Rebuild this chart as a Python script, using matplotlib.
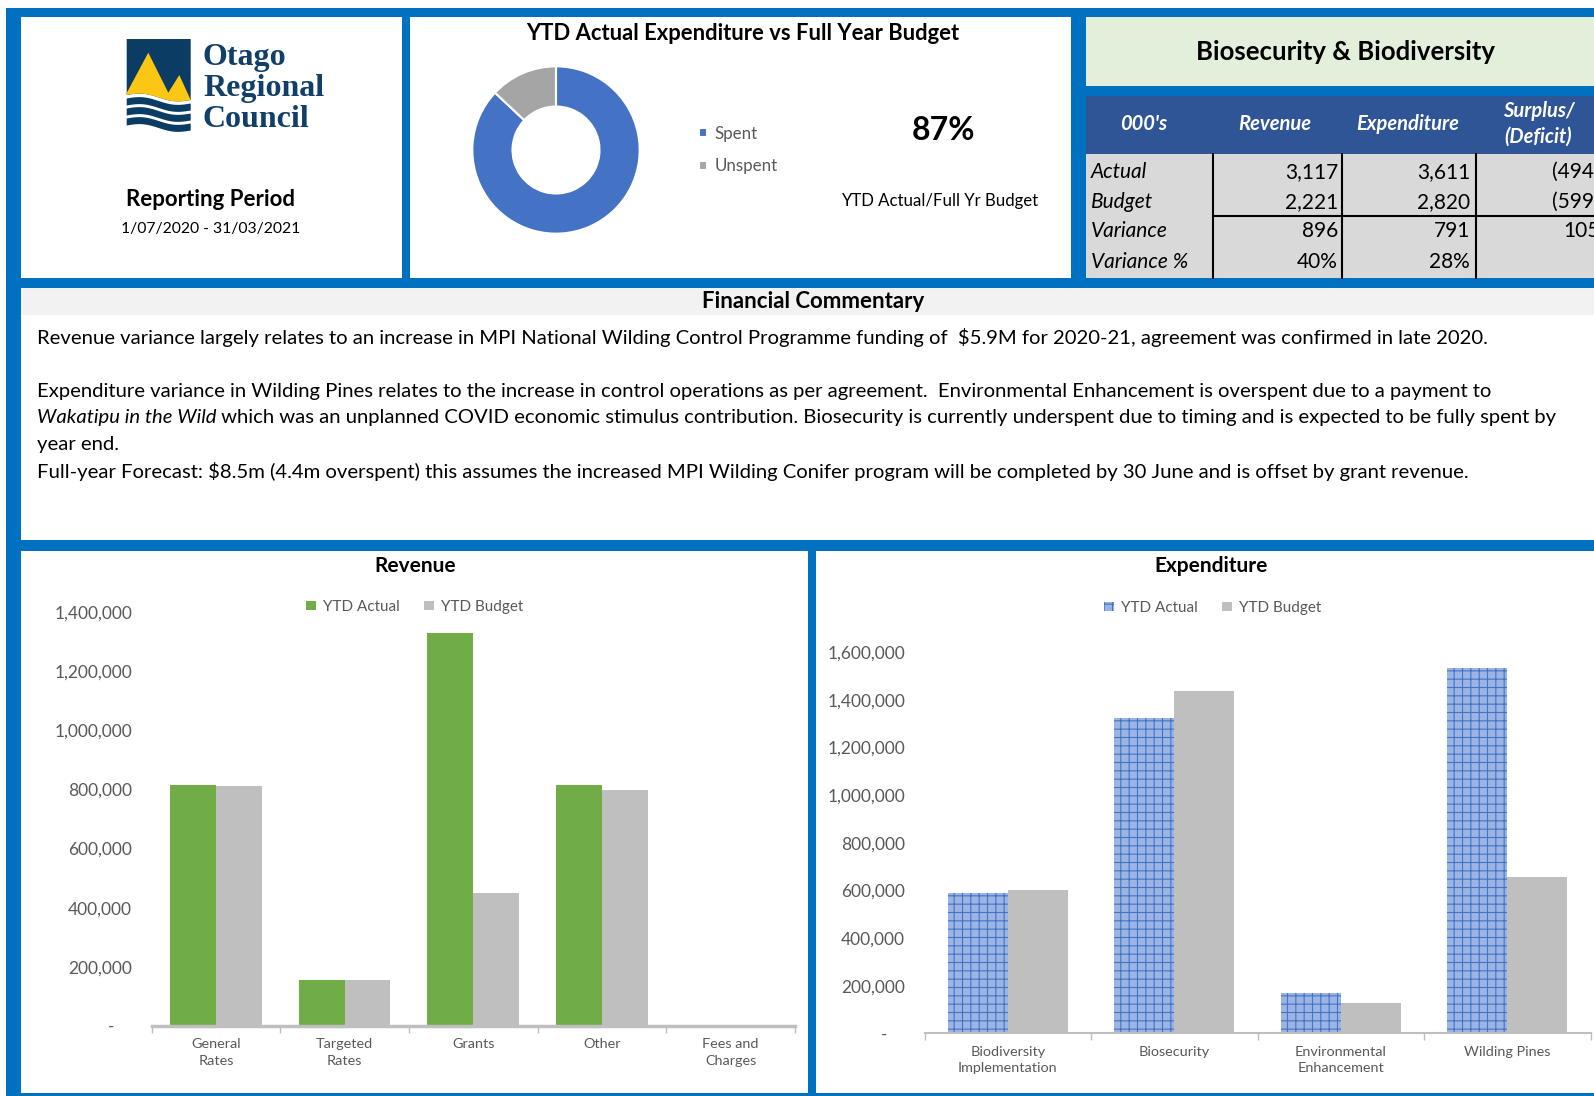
import numpy as np
import matplotlib
matplotlib.use("Agg")
import matplotlib.pyplot as plt
from matplotlib.patches import Rectangle, Polygon
from matplotlib.ticker import FuncFormatter, FixedLocator

plt.rcParams['font.family'] = ['Lato', 'DejaVu Sans']
plt.rcParams['hatch.linewidth'] = 0.8

W, H = 1594, 1096
BLUE = '#0070C0'
GREY_TXT = '#595959'

# ---- data ----
spent_labels = ['Spent', 'Unspent']
spent_share = [87, 13]
spent_pct = '87%'

table_cols = ["000's", 'Revenue', 'Expenditure', 'Surplus/\n(Deficit)']
table_rows = ['Actual', 'Budget', 'Variance', 'Variance %']
table_revenue = ['3,117', '2,221', '896', '40%']
table_expend = ['3,611', '2,820', '791', '28%']
table_surplus = ['(494)', '(599)', '105', '']

rev_cats = ['General\nRates', 'Targeted\nRates', 'Grants', 'Other', 'Fees and\nCharges']
rev_actual = [813000, 157000, 1327000, 813000, 0]
rev_budget = [811000, 155000, 448000, 798000, 0]

exp_cats = ['Biodiversity\nImplementation', 'Biosecurity', 'Environmental\nEnhancement', 'Wilding Pines']
exp_actual = [589000, 1323000, 171000, 1535000]
exp_budget = [602000, 1439000, 126000, 658000]

comment_1 = ("Revenue variance largely relates to an increase in MPI National Wilding Control "
             "Programme funding of  \\$5.9M for 2020-21, agreement was confirmed in late 2020.")
comment_2 = ("Expenditure variance in Wilding Pines relates to the increase in control operations "
             "as per agreement.  Environmental Enhancement is overspent due to a payment to")
comment_3_it = "Wakatipu in the Wild"
comment_3 = (" which was an unplanned COVID economic stimulus contribution. Biosecurity is "
             "currently underspent due to timing and is expected to be fully spent by")
comment_4 = "year end."
comment_5 = ("Full-year Forecast: \\$8.5m (4.4m overspent) this assumes the increased MPI Wilding "
             "Conifer program will be completed by 30 June and is offset by grant revenue.")

fig = plt.figure(figsize=(W / 100, H / 100), dpi=100)


def px_axes(x0, y0, x1, y1):
    return fig.add_axes([x0 / W, 1 - y1 / H, (x1 - x0) / W, (y1 - y0) / H])


# background layer in pixel coords
bg = fig.add_axes([0, 0, 1, 1])
bg.set_xlim(0, W)
bg.set_ylim(H, 0)
bg.axis('off')


def box(x0, y0, x1, y1, color):
    bg.add_patch(Rectangle((x0, y0), x1 - x0, y1 - y0, facecolor=color, edgecolor='none'))


box(6, 8, W + 10, H + 10, BLUE)
box(21, 17, 402, 278, 'white')
box(410, 17, 1071, 278, 'white')
box(1086, 17, W, 86, '#E2EFDA')
box(1086, 96, W, 154, '#2F5597')
box(1086, 154, W, 278, '#D9D9D9')
box(21, 288, W, 540, 'white')
box(21, 288, W, 315, '#F2F2F2')
box(21, 551, 808, 1093, 'white')
box(816, 551, W, 1093, 'white')

# ---- logo ----
navy = '#0B3C63'
lx0, lx1 = 126.7, 190.7
xs = np.linspace(lx0, lx1, 60)
tt = (xs - lx0) / (lx1 - lx0)


def wave(y0):
    return y0 + 5 * tt - 2.5 * np.sin(2 * np.pi * tt)


top_curve = wave(95)
bg.add_patch(Polygon(np.column_stack([np.r_[lx0, xs, lx1], np.r_[39, top_curve, 39]]),
                     facecolor=navy, edgecolor='none'))
mx = [lx0, 148.3, 168.3, 179.3, lx1]
my = [93, 52.7, 92.7, 75, 100]
bg.add_patch(Polygon(np.column_stack([np.r_[mx, xs[::-1]], np.r_[my, top_curve[::-1]]]),
                     facecolor='#FCC713', edgecolor='none'))
for k in range(3):
    a = wave(98.5 + 10 * k)
    b = wave(105.5 + 10 * k)
    bg.add_patch(Polygon(np.column_stack([np.r_[xs, xs[::-1]], np.r_[a, b[::-1]]]),
                         facecolor=navy, edgecolor='none'))
for word, yb in zip(['Otago', 'Regional', 'Council'], [65, 96, 127]):
    bg.text(203, yb, word, family='Liberation Serif', weight='bold', fontsize=23,
            color='#123F6A', ha='left', va='baseline')

bg.text(211, 200, 'Reporting Period', fontsize=16, weight='bold', ha='center', va='center')
bg.text(211, 229, '1/07/2020 - 31/03/2021', fontsize=11.3, ha='center', va='center')

# ---- donut ----
bg.text(743, 33, 'YTD Actual Expenditure vs Full Year Budget', fontsize=15.8, weight='bold',
        ha='center', va='center')
r = 84.5
dax = px_axes(556 - r, 150 - r, 556 + r, 150 + r)
wedges, _ = dax.pie(spent_share, colors=['#4472C4', '#A5A5A5'], startangle=90, counterclock=False,
                    wedgeprops=dict(width=0.48, edgecolor='white', linewidth=1.5))
dax.set_xlim(-1.01, 1.01)
dax.set_ylim(-1.01, 1.01)
dax.legend(wedges, spent_labels, loc='center left', bbox_to_anchor=(691 / W, 1 - 150 / H),
           bbox_transform=fig.transFigure, frameon=False, fontsize=12.2, labelcolor=GREY_TXT,
           handlelength=0.42, handleheight=0.42, handletextpad=0.45, labelspacing=1.0, borderpad=0)
bg.text(944, 130, spent_pct, fontsize=23, weight='bold', ha='center', va='center')
bg.text(940, 201, 'YTD Actual/Full Yr Budget', fontsize=12.1, ha='center', va='center')

# ---- table ----
bg.text(1346, 52, 'Biosecurity & Biodiversity', fontsize=18.5, weight='bold', ha='center', va='center')
head_x = [1143.5, 1275, 1407.5, 1538.5]
for hx, lab in zip(head_x, table_cols):
    bg.text(hx, 124, lab, fontsize=14.5, weight='bold', style='italic', color='white',
            ha='center', va='center', linespacing=1.35)
row_y = [172, 202, 231, 262]
for ry, lab, rv, ev, sv in zip(row_y, table_rows, table_revenue, table_expend, table_surplus):
    bg.text(1091, ry, lab, fontsize=15, style='italic', ha='left', va='center')
    bg.text(1338, ry, rv, fontsize=15, ha='right', va='center')
    bg.text(1470, ry, ev, fontsize=15, ha='right', va='center')
    bg.text(1600, ry, sv, fontsize=15, ha='right', va='center')
for cx in [1212.6, 1342, 1476]:
    bg.plot([cx, cx], [154, 278], color='black', lw=1.5)
bg.plot([1212.6, W], [216, 216], color='black', lw=1.5)

# ---- commentary ----
bg.text(813, 301, 'Financial Commentary', fontsize=16, weight='bold', ha='center', va='center')
ckw = dict(fontsize=14.55, ha='left', va='center')
bg.text(37, 337.5, comment_1, **ckw)
bg.text(37, 391.4, comment_2, **ckw)
it = bg.text(37, 417.8, comment_3_it, style='italic', **ckw)
rend = fig.canvas.get_renderer()
bg.text(37 + it.get_window_extent(renderer=rend).width, 417.8, comment_3, **ckw)
bg.text(37, 444.3, comment_4, **ckw)
bg.text(37, 471.7, comment_5, **ckw)


# ---- bar charts ----
def style_chart(ax, cats, ymax, step, base_lw):
    ax.set_facecolor('none')
    for s in ['top', 'right', 'left']:
        ax.spines[s].set_visible(False)
    ax.spines['bottom'].set_color('#BFBFBF')
    ax.spines['bottom'].set_linewidth(base_lw)
    ax.set_xlim(-0.5, len(cats) - 0.5)
    ax.set_ylim(0, ymax)
    ax.set_yticks(np.arange(0, ymax + 1, step))
    ax.yaxis.set_major_formatter(FuncFormatter(lambda v, p: '-    ' if v == 0 else f'{v:,.0f}'))
    ax.tick_params(axis='y', length=0, pad=14, labelsize=12.5, labelcolor=GREY_TXT)
    ax.set_xticks(range(len(cats)))
    ax.set_xticklabels(cats, linespacing=1.45)
    ax.tick_params(axis='x', which='major', length=0, pad=9, labelsize=10.4, labelcolor=GREY_TXT)
    ax.xaxis.set_minor_locator(FixedLocator(np.arange(-0.5, len(cats), 1.0)))
    ax.tick_params(axis='x', which='minor', length=5, width=1, color='#BFBFBF')


bw = 0.357

rax = px_axes(151.5, 611.7, 795, 1026)
x = np.arange(len(rev_cats))
rax.bar(x - bw / 2, rev_actual, bw, color='#70AD47', label='YTD Actual')
rax.bar(x + bw / 2, rev_budget, bw, color='#BFBFBF', label='YTD Budget')
style_chart(rax, rev_cats, 1400000, 200000, 2.5)
rax.legend(loc='center', bbox_to_anchor=(415 / W, 1 - 607 / H), bbox_transform=fig.transFigure,
           ncol=2, frameon=False, fontsize=11, labelcolor=GREY_TXT, handlelength=0.6,
           handleheight=0.6, handletextpad=0.5, columnspacing=1.6)
bg.text(415, 566, 'Revenue', fontsize=15, weight='bold', ha='center', va='center')

eax = px_axes(924.7, 652.3, 1590.5, 1033.3)
x = np.arange(len(exp_cats))
eax.bar(x - 0.36 / 2, exp_actual, 0.36, color='#9BB4E4', edgecolor='#4472C4', hatch='++',
        linewidth=0, label='YTD Actual')
eax.bar(x + 0.36 / 2, exp_budget, 0.36, color='#BFBFBF', label='YTD Budget')
style_chart(eax, exp_cats, 1600000, 200000, 1.5)
eax.legend(loc='center', bbox_to_anchor=(1213 / W, 1 - 608 / H), bbox_transform=fig.transFigure,
           ncol=2, frameon=False, fontsize=11, labelcolor=GREY_TXT, handlelength=0.6,
           handleheight=0.6, handletextpad=0.5, columnspacing=1.6)
bg.text(1211, 566, 'Expenditure', fontsize=15, weight='bold', ha='center', va='center')

fig.savefig('out.png', dpi=100)
